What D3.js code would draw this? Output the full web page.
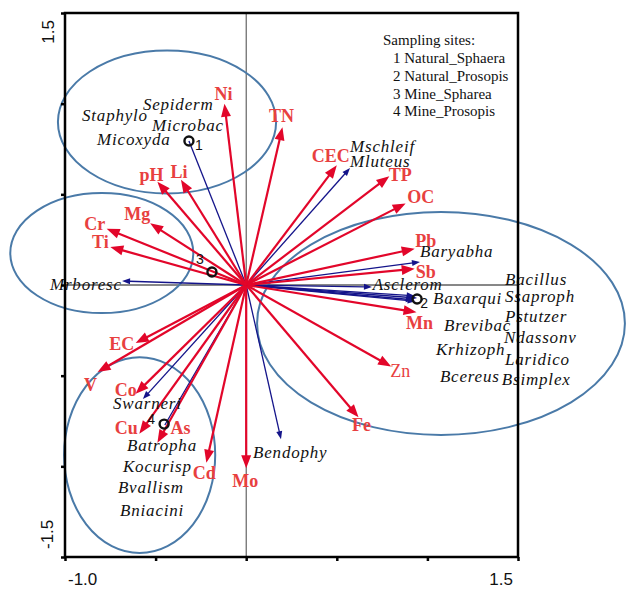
<!DOCTYPE html>
<html>
<head>
<meta charset="utf-8">
<script src="https://cdn.jsdelivr.net/npm/d3@7"></script>
<style>
  html, body { margin: 0; padding: 0; background: #fff; }
  svg { display: block; }
</style>
</head>
<body>
<div id="chart"></div>
<script>
// ---- Environmental variables (biplot arrow tips, axis units) ----
const envNames = ["Ni","TN","CEC","TP","OC","Pb","Sb","Mn","Zn","Fe","Mo","Cd","As","Cu","Co","V","EC","Ti","Cr","Mg","pH","Li"];
const envX = [-0.12, 0.20, 0.50, 0.79, 0.88, 0.93, 0.93, 0.94, 0.80, 0.62, 0.00, -0.22, -0.49, -0.59, -0.61, -0.82, -0.61, -0.75, -0.77, -0.53, -0.49, -0.36];
const envY = [1.00, 0.87, 0.66, 0.60, 0.45, 0.20, 0.09, -0.15, -0.45, -0.73, -1.01, -0.98, -0.87, -0.82, -0.60, -0.48, -0.32, 0.21, 0.31, 0.34, 0.57, 0.58];

// ---- Species arrows (tips, axis units) ----
const sppArrowNames = ["Mschleif","Baryabha","Asclerom","Baxarqui","Bacillus","Ssaproph","Pstutzer","Mrboresc","Swarneri","Bendophy","Microbac","Batropha"];
const sppArrowX = [0.573, 0.959, 0.694, 0.943, 0.930, 0.925, 0.935, -0.685, -0.570, 0.192, -0.316, -0.449];
const sppArrowY = [0.645, 0.127, -0.011, -0.072, -0.060, -0.082, -0.090, 0.022, -0.629, -0.850, 0.794, -0.772];
const sppArrowHead = [true, true, true, true, true, true, true, true, true, true, false, false];

// ---- Species names (text anchor, axis units) ----
const sppNames = ["Sepiderm","Staphylo","Microbac","Micoxyda","Mschleif","Mluteus","Baryabha","Asclerom","Baxarqui",
  "Bacillus","Ssaproph","Pstutzer","Brevibac","Ndassonv","Krhizoph","Laridico","Bcereus","Bsimplex",
  "Mrboresc","Swarneri","Batropha","Kocurisp","Bvallism","Bniacini","Bendophy"];
const sppX = [-0.570, -0.906, -0.520, -0.823, 0.573, 0.573, 0.959, 0.698, 1.031,
  1.428, 1.428, 1.428, 1.092, 1.423, 1.047, 1.428, 1.069, 1.411,
  -1.083, -0.735, -0.658, -0.680, -0.708, -0.696, 0.038];
const sppY = [0.965, 0.904, 0.849, 0.772, 0.733, 0.651, 0.154, -0.028, -0.105,
  0.000, -0.094, -0.204, -0.254, -0.320, -0.386, -0.441, -0.535, -0.551,
  -0.028, -0.684, -0.915, -1.031, -1.147, -1.274, -0.954];

// ---- Sampling sites ----
const siteIds = ["1","2","3","4"];
const siteX = [-0.316, 0.943, -0.189, -0.453];
const siteY = [0.794, -0.077, 0.072, -0.767];
const legendTitle = "Sampling sites:";
const legendItems = ["1 Natural_Sphaera","2 Natural_Prosopis","3 Mine_Spharea","4 Mine_Prosopis"];

// ---- Group ellipses (centre and radii, axis units) ----
const ellCX = [-0.437, -0.797, -0.588, 1.075];
const ellCY = [0.899, 0.176, -0.938, -0.212];
const ellRX = [0.602, 0.505, 0.417, 1.015];
const ellRY = [0.394, 0.331, 0.540, 0.615];

// ---- Axis ticks ----
const xTicks = [-1.0, -0.5, 0, 0.5, 1.0, 1.5];
const yTicks = [-1.5, -1.0, -0.5, 0, 0.5, 1.0, 1.5];
const xTickLabels = ["-1.0", "1.5"];
const yTickLabels = ["-1.5", "1.5"];

// ---- Layout ----
const W = 626, H = 590;
const plot = { left: 65, right: 518, top: 13, bottom: 557 };
const RED = "#e2062a", RED_TEXT = "#e8403f", NAVY = "#14148a", ELL = "#4a7aa8";

// Label offsets (px) from each environmental arrow tip: [dx, dy] for a centred baseline
const envLabelOffset = {
  Ni: [-1, -4], TN: [-1, -5], CEC: [-6, -3], TP: [11, 5], OC: [15, 0], Pb: [11, -2], Sb: [11, 9],
  Mn: [3, 17], Zn: [9, 10], Fe: [3, 14], Mo: [-1, 19], Cd: [-2, 16], As: [23, -9], Cu: [-13, 0],
  Co: [-10, 2], V: [-7, 19], EC: [-14, 7], Ti: [-10, 1], Cr: [-12, 1], Mg: [-13, -3], pH: [-6, -1], Li: [-2, -2]
};
const siteLabelOffset = [[10, 9], [7, 9], [-12, -8], [-13, 0]];

const svg = d3.select("#chart").append("svg").attr("width", W).attr("height", H);

const x = d3.scaleLinear().domain([-1.0, 1.5]).range([plot.left, plot.right]);
const y = d3.scaleLinear().domain([-1.5, 1.5]).range([plot.bottom, plot.top]);

// Zero lines through the origin
svg.append("line").attr("x1", x(0)).attr("x2", x(0)).attr("y1", plot.top).attr("y2", plot.bottom)
  .attr("stroke", "#444").attr("stroke-width", 1);
svg.append("line").attr("x1", plot.left).attr("x2", plot.right).attr("y1", y(0)).attr("y2", y(0))
  .attr("stroke", "#111").attr("stroke-width", 1);

// Group ellipses
svg.append("g").selectAll("ellipse").data(ellCX.map((d, i) => i)).join("ellipse")
  .attr("cx", i => x(ellCX[i])).attr("cy", i => y(ellCY[i]))
  .attr("rx", i => x(ellRX[i]) - x(0)).attr("ry", i => y(0) - y(ellRY[i]))
  .attr("fill", "none").attr("stroke", ELL).attr("stroke-width", 2);

// Arrow from the origin with a filled triangular head
function arrow(g, x2, y2, color, width, headLen, headHalf, withHead) {
  const x1 = x(0), y1 = y(0);
  const dx = x2 - x1, dy = y2 - y1, len = Math.hypot(dx, dy);
  const ux = dx / len, uy = dy / len;
  const bx = x2 - ux * headLen, by = y2 - uy * headLen;
  g.append("line").attr("x1", x1).attr("y1", y1)
    .attr("x2", withHead ? bx + ux * 1 : x2).attr("y2", withHead ? by + uy * 1 : y2)
    .attr("stroke", color).attr("stroke-width", width);
  if (withHead) {
    g.append("path")
      .attr("d", `M${x2},${y2}L${bx - uy * headHalf},${by + ux * headHalf}L${bx + uy * headHalf},${by - ux * headHalf}Z`)
      .attr("fill", color);
  }
}

// Species arrows
const gSpp = svg.append("g");
sppArrowNames.forEach((n, i) => {
  arrow(gSpp, x(sppArrowX[i]), y(sppArrowY[i]), NAVY, 1.3, 8, 3, sppArrowHead[i]);
});

// Environmental arrows
const gEnv = svg.append("g");
envNames.forEach((n, i) => {
  arrow(gEnv, x(envX[i]), y(envY[i]), RED, 2.2, 13, 5, true);
});

// Environmental labels
svg.append("g").selectAll("text").data(envNames).join("text")
  .attr("x", (d, i) => x(envX[i]) + envLabelOffset[d][0])
  .attr("y", (d, i) => y(envY[i]) + envLabelOffset[d][1])
  .attr("text-anchor", "middle")
  .attr("font-family", "'Liberation Serif', 'Times New Roman', serif")
  .attr("font-size", 18)
  .attr("font-weight", d => d === "Zn" ? "normal" : "bold")
  .attr("fill", RED_TEXT)
  .text(d => d);

// Species labels
svg.append("g").selectAll("text").data(sppNames).join("text")
  .attr("x", (d, i) => x(sppX[i]))
  .attr("y", (d, i) => y(sppY[i]))
  .attr("font-family", "'Liberation Serif', 'Times New Roman', serif")
  .attr("font-style", "italic")
  .attr("font-size", 17)
  .attr("letter-spacing", 0.8)
  .attr("fill", "#111")
  .text(d => d);

// Sites
svg.append("g").selectAll("circle").data(siteIds).join("circle")
  .attr("cx", (d, i) => x(siteX[i])).attr("cy", (d, i) => y(siteY[i]))
  .attr("r", 4.5).attr("fill", "none").attr("stroke", "#111").attr("stroke-width", 2.4);
svg.append("g").selectAll("text").data(siteIds).join("text")
  .attr("x", (d, i) => x(siteX[i]) + siteLabelOffset[i][0])
  .attr("y", (d, i) => y(siteY[i]) + siteLabelOffset[i][1])
  .attr("text-anchor", "middle")
  .attr("font-family", "'Liberation Sans', Arial, sans-serif")
  .attr("font-size", 14).attr("fill", "#111")
  .text(d => d);

// Legend
const gLeg = svg.append("g").attr("font-family", "'Liberation Serif', 'Times New Roman', serif")
  .attr("font-size", 15).attr("fill", "#111");
gLeg.append("text").attr("x", 383).attr("y", 45).text(legendTitle);
gLeg.selectAll("text.item").data(legendItems).join("text").attr("class", "item")
  .attr("x", 393).attr("y", (d, i) => 63 + i * 17.8).text(d => d);

// Frame and ticks
svg.append("rect").attr("x", plot.left).attr("y", plot.top)
  .attr("width", plot.right - plot.left).attr("height", plot.bottom - plot.top)
  .attr("fill", "none").attr("stroke", "#000").attr("stroke-width", 2.5);

const xAxis = d3.axisBottom(x).tickValues(xTicks).tickSize(4).tickSizeOuter(0).tickFormat("");
const yAxis = d3.axisLeft(y).tickValues(yTicks).tickSize(4).tickSizeOuter(0).tickFormat("");
const gx = svg.append("g").attr("transform", `translate(0,${plot.bottom})`).call(xAxis);
const gy = svg.append("g").attr("transform", `translate(${plot.left},0)`).call(yAxis);
[gx, gy].forEach(g => {
  g.select(".domain").remove();
  g.selectAll(".tick line").attr("stroke", "#000").attr("stroke-width", 2.5);
});

// Axis end labels
const axisFont = "'Liberation Sans', Arial, sans-serif";
svg.append("text").attr("x", x(-1.0) + 3).attr("y", 585).attr("text-anchor", "start")
  .attr("font-family", axisFont).attr("font-size", 17).attr("fill", "#111").text(xTickLabels[0]);
svg.append("text").attr("x", x(1.5) - 5).attr("y", 585).attr("text-anchor", "end")
  .attr("font-family", axisFont).attr("font-size", 17).attr("fill", "#111").text(xTickLabels[1]);
svg.append("text").attr("transform", `translate(54,${y(1.5) + 7}) rotate(-90)`).attr("text-anchor", "end")
  .attr("font-family", axisFont).attr("font-size", 17).attr("fill", "#111").text(yTickLabels[1]);
svg.append("text").attr("transform", `translate(53,${y(-1.5) - 8}) rotate(-90)`).attr("text-anchor", "start")
  .attr("font-family", axisFont).attr("font-size", 17).attr("fill", "#111").text(yTickLabels[0]);
</script>
</body>
</html>
